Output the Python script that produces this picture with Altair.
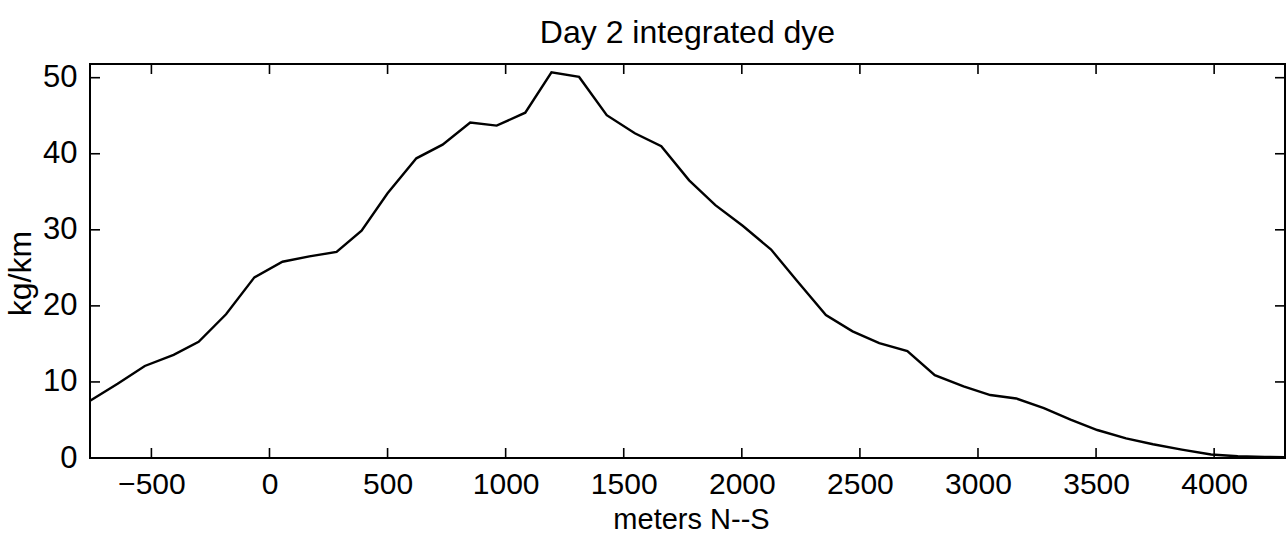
import altair as alt
import pandas as pd

# distance (m) and integrated dye (kg/km)
x_m = [-758, -643, -528, -406, -300, -184, -64, 55, 169, 284, 390, 500, 622, 733,
       850, 962, 1083, 1194, 1311, 1428, 1547, 1659, 1777, 1888, 2005, 2124, 2236,
       2356, 2469, 2582, 2701, 2817, 2939, 3052, 3162, 3279, 3392, 3505, 3627,
       3741, 3863, 3987, 4100, 4215, 4298]
dye = [7.55, 9.76, 12.1, 13.57, 15.27, 18.9, 23.75, 25.8, 26.5, 27.1, 29.9, 34.8,
       39.4, 41.2, 44.1, 43.7, 45.4, 50.7, 50.1, 45.07, 42.7, 41.0, 36.5, 33.25,
       30.5, 27.4, 23.2, 18.8, 16.65, 15.1, 14.05, 10.9, 9.43, 8.28, 7.83, 6.55,
       5.05, 3.68, 2.57, 1.81, 1.10, 0.46, 0.23, 0.15, 0.10]
x_ticks = [-500, 0, 500, 1000, 1500, 2000, 2500, 3000, 3500, 4000]
y_ticks = [0, 10, 20, 30, 40, 50]
x_domain = [-760, 4300]
y_domain = [0, 51.8]

W, H = 1195, 394
FONT = "Liberation Sans"
TL = 10  # tick length in px
XT, YT = "meters N--S", "kg/km"

df = pd.DataFrame({"x": x_m, "y": dye})
dxt = pd.DataFrame({"x": x_ticks})
dyt = pd.DataFrame({"y": y_ticks})

xs = alt.Scale(domain=x_domain, nice=False, zero=False)
ys = alt.Scale(domain=y_domain, nice=False, zero=False)

xaxis = alt.Axis(values=x_ticks, format="d", title=XT, labelPadding=11,
                 labelFontSize=30, labelFlush=False, titleBaseline="middle",
                 titleX=601, titleY=61, titleFontSize=29)
yaxis = alt.Axis(values=y_ticks, format="d", title=YT, labelPadding=13,
                 labelFontSize=31, labelFlush=False, titleAngle=270,
                 titleBaseline="middle", titleAlign="center", titleX=-70,
                 titleY=209, titleFontSize=32)

line = alt.Chart(df).mark_line(color="black", strokeWidth=2.4).encode(
    x=alt.X("x:Q", scale=xs, axis=xaxis, title=XT),
    y=alt.Y("y:Q", scale=ys, axis=yaxis, title=YT),
)

tb = alt.Chart(dxt).mark_rule(color="black", strokeWidth=1.6).encode(
    x=alt.X("x:Q", scale=xs, title=XT), y=alt.value(H), y2=alt.value(H - TL))
tt = alt.Chart(dxt).mark_rule(color="black", strokeWidth=1.6).encode(
    x=alt.X("x:Q", scale=xs, title=XT), y=alt.value(0), y2=alt.value(TL))
tl = alt.Chart(dyt).mark_rule(color="black", strokeWidth=1.6).encode(
    y=alt.Y("y:Q", scale=ys, title=YT), x=alt.value(0), x2=alt.value(TL))
tr = alt.Chart(dyt).mark_rule(color="black", strokeWidth=1.6).encode(
    y=alt.Y("y:Q", scale=ys, title=YT), x=alt.value(W), x2=alt.value(W - TL))

chart = alt.layer(line, tb, tt, tl, tr).properties(
    width=W, height=H,
    title=alt.TitleParams("Day 2 integrated dye", font=FONT, fontSize=32,
                          fontWeight="normal", color="black", anchor="middle",
                          baseline="alphabetic", offset=24, dy=37),
    padding={"left": 90, "top": 64, "right": 1, "bottom": 78},
    autosize=alt.AutoSizeParams(type="none"),
    background="white",
).configure_view(stroke="black", strokeWidth=2).configure_axis(
    domain=False, grid=False, ticks=False, tickSize=0,
    labelFont=FONT, labelColor="black",
    titleFont=FONT, titleFontWeight="normal", titleColor="black",
)

chart.save("out.html", embed_options={"renderer": "svg", "actions": False})
